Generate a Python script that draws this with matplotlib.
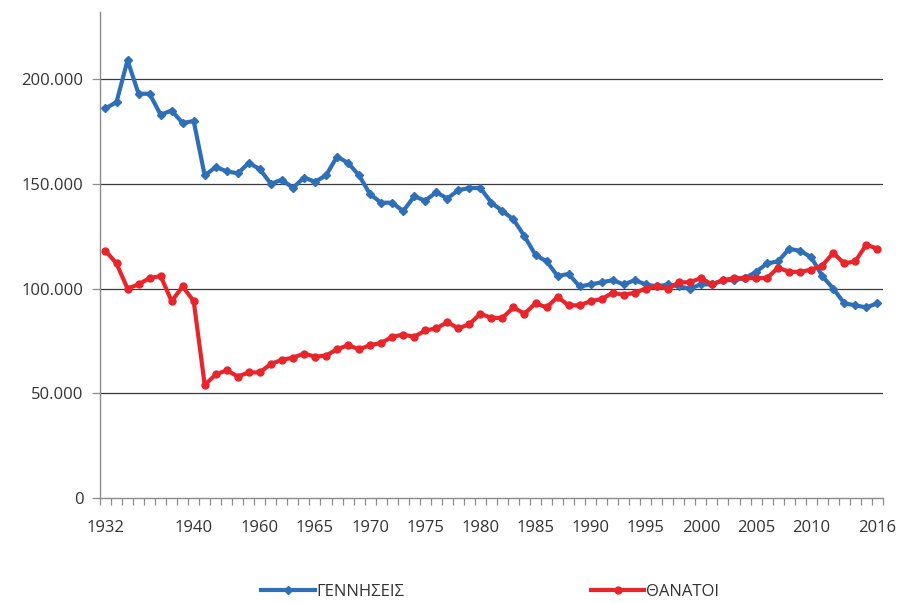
import numpy as np
import matplotlib
matplotlib.use("Agg")
import matplotlib.pyplot as plt
from matplotlib.ticker import FuncFormatter, FixedLocator

plt.rcParams['font.family'] = ['Open Sans', 'DejaVu Sans']

# years on the category axis (1941-1954 not in the series)
years = list(range(1932, 1941)) + list(range(1955, 2017))

births = [186000, 189000, 209000, 193000, 193000, 183000, 185000, 179000, 180000,
          154000, 158000, 156000, 155000, 160000,
          157000, 150000, 152000, 148000, 153000, 151000, 154000, 163000, 160000, 154000,
          145000, 141000, 141000, 137000, 144000, 142000, 146000, 143000, 147000, 148000,
          148000, 141000, 137000, 133000, 125000, 116000, 113000, 106000, 107000, 101000,
          102000, 103000, 104000, 102000, 104000, 102000, 101000, 102000, 101000, 100000,
          102000, 102000, 104000, 104000, 105000, 108000, 112000, 113000, 119000, 118000,
          115000, 106000, 100000, 93000, 92000, 91000, 93000]

deaths = [118000, 112000, 100000, 102000, 105000, 106000, 94000, 101000, 94000,
          54000, 59000, 61000, 58000, 60000,
          60000, 64000, 66000, 67000, 69000, 67500, 68000, 71000, 73000, 71000,
          73000, 74000, 77000, 78000, 77000, 80000, 81000, 84000, 81000, 83000,
          88000, 86000, 86000, 91000, 88000, 93000, 91000, 96000, 92000, 92000,
          94000, 95000, 98000, 97000, 98000, 100000, 101000, 100000, 103000, 103000,
          105000, 102000, 104000, 105000, 105000, 105000, 105000, 110000, 108000, 108000,
          109000, 111000, 117000, 112000, 113000, 121000, 119000]

shown_years = [1932, 1940, 1960, 1965, 1970, 1975, 1980, 1985, 1990, 1995,
               2000, 2005, 2010, 2016]

blue = '#2e6fb7'
red = '#e8252b'
grey = '#8c8c8c'

fig = plt.figure(figsize=(9.03, 6.03), dpi=100)
ax = fig.add_axes([0.1107, 0.174, 0.867, 0.806])

x = np.arange(len(years))
ax.plot(x, births, color=blue, lw=3, marker='D', ms=4, label='ΓΕΝΝΗΣΕΙΣ')
ax.plot(x, deaths, color=red, lw=3, marker='o', ms=5, label='ΘΑΝΑΤΟΙ')

ax.set_xlim(-0.5, len(years) - 0.5)
ax.set_ylim(0, 232000)

# horizontal gridlines
ax.set_yticks([0, 50000, 100000, 150000, 200000])
ax.yaxis.set_major_formatter(FuncFormatter(
    lambda v, p: '0' if v == 0 else f'{int(v):,}'.replace(',', '.')))
for v in [50000, 100000, 150000, 200000]:
    ax.axhline(v, color='#3a3a3a', lw=0.9, zorder=0)

# tick marks between categories, labels on selected years
ax.xaxis.set_major_locator(FixedLocator(np.arange(-0.5, len(years), 1.0)))
ax.xaxis.set_major_formatter(FuncFormatter(lambda v, p: ''))
ax.xaxis.set_minor_locator(FixedLocator([years.index(y) for y in shown_years]))
ax.xaxis.set_minor_formatter(FuncFormatter(lambda v, p: str(years[int(round(v))])))
ax.tick_params(axis='x', which='major', length=5, width=0.9, color=grey, direction='out')
ax.tick_params(axis='x', which='minor', length=0, pad=16, labelsize=12, labelcolor='#333333')
ax.tick_params(axis='y', length=6, width=0.9, color=grey, labelsize=12,
               labelcolor='#333333', pad=6)

for s in ['top', 'right']:
    ax.spines[s].set_visible(False)
for s in ['left', 'bottom']:
    ax.spines[s].set_color(grey)
    ax.spines[s].set_linewidth(1.0)

fig.legend(loc='center', bbox_to_anchor=(0.543, 0.018), ncol=2, frameon=False,
           columnspacing=11.2, handlelength=3.2, handletextpad=0.1, fontsize=12,
           labelcolor='#333333')

fig.savefig('out.png', dpi=100)
